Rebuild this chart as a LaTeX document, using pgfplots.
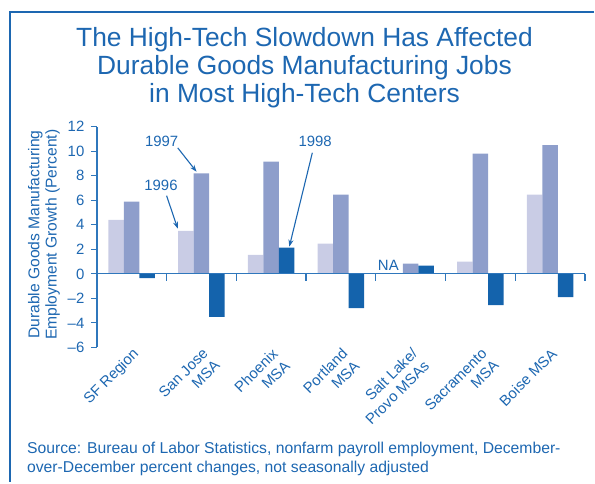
\documentclass[border=0pt]{standalone}
\usepackage{fontspec}
\setmainfont{Liberation Sans}
\usepackage{pgfplots}
\pgfplotsset{compat=1.18}
\usetikzlibrary{arrows.meta}

\definecolor{txtblue}{HTML}{1D67B1}
\definecolor{axblue}{HTML}{2F77BC}
\definecolor{c96}{HTML}{C9CCE5}
\definecolor{c97}{HTML}{8E9ECB}
\definecolor{c98}{HTML}{1463AC}

\begin{document}
\begin{tikzpicture}[x=1bp,y=1bp]
\path (0,0) rectangle (595,483);
\draw[txtblue, line width=2bp] (595,471) -- (10,471) -- (10,0);

% title
\node[txtblue, font=\fontsize{26.5}{28}\selectfont, align=center] at (305,415)
  {The High-Tech Slowdown Has Affected\\Durable Goods Manufacturing Jobs\\in Most High-Tech Centers};

% y label
\node[txtblue, rotate=90, font=\fontsize{15.7}{17.5}\selectfont, align=center] at (44,248)
  {Durable Goods Manufacturing\\Employment Growth (Percent)};

% source
\begin{scope}[txtblue, font=\fontsize{15.8}{19}\selectfont]
\node[anchor=base west, inner sep=0pt] at (27,29)
  {Source: Bureau of Labor Statistics, nonfarm payroll employment, December-};
\node[anchor=base west, inner sep=0pt] at (27,10)
  {over-December percent changes, not seasonally adjusted};
\end{scope}

\begin{axis}[
    at={(97bp,135bp)}, anchor=south west,
    scale only axis, width=489bp, height=221bp,
    xmin=-0.5, xmax=6.5, ymin=-6, ymax=12,
    axis y line*=left, axis x line*=bottom,
    x axis line style={opacity=0},
    y axis line style={axblue, line width=1.5bp},
    ytick={-6,-4,...,12},
    yticklabels={–6,–4,–2,0,2,4,6,8,10,12},
    ytick style={axblue, line width=1.2bp},
    yticklabel style={xshift=-3bp},
    tick align=outside, major tick length=6bp,
    xtick={0,...,6},
    xticklabels={SF Region, San Jose\\MSA, Phoenix\\MSA, Portland\\MSA,
                 Salt Lake/\\Provo MSAs, Sacramento\\MSA, Boise MSA},
    xtick style={draw=none},
    xticklabel style={rotate=45, anchor=north east, align=right},
    xticklabel shift=-11bp,
    tick label style={font=\fontsize{15}{17}\selectfont, text=txtblue},
    ybar=0pt, bar width=0.222,
    clip=false,
]
\addplot[fill=c96, draw=none] coordinates {(0,4.4) (1,3.5) (2,1.55) (3,2.47) (5,1.0) (6,6.46)};
\addplot[fill=c97, draw=none] coordinates {(0,5.9) (1,8.2) (2,9.15) (3,6.46) (4,0.84) (5,9.8) (6,10.5)};
\addplot[fill=c98, draw=none] coordinates {(0,-0.35) (1,-3.5) (2,2.15) (3,-2.8) (4,0.68) (5,-2.55) (6,-1.9)};

% zero line and category ticks
\draw[axblue, line width=1.2bp] (axis cs:-0.5,0) -- (axis cs:6.5,0);
\pgfplotsinvokeforeach{0.5,1.5,2.5,3.5,4.5,5.5,6.5}{
  \draw[axblue, line width=1.2bp] (axis cs:#1,0) -- ++(0bp,-7bp);
}

% annotations
\begin{scope}[txtblue, font=\fontsize{15}{17}\selectfont]
\node at (axis cs:0.43,10.77) {1997};
\draw[line width=1.1bp, -{Stealth[length=7bp,width=5bp]}] (axis cs:0.66,10.28) -- (axis cs:0.93,8.33);
\node at (axis cs:0.42,7.19) {1996};
\draw[line width=1.1bp, -{Stealth[length=7bp,width=5bp]}] (axis cs:0.50,6.38) -- (axis cs:0.66,3.69);
\node at (axis cs:2.63,10.85) {1998};
\draw[line width=1.1bp, -{Stealth[length=7bp,width=5bp]}] (axis cs:2.59,9.88) -- (axis cs:2.26,2.22);
\node[anchor=base] at (axis cs:3.68,0.27) {NA};
\end{scope}
\end{axis}
\end{tikzpicture}
\end{document}
